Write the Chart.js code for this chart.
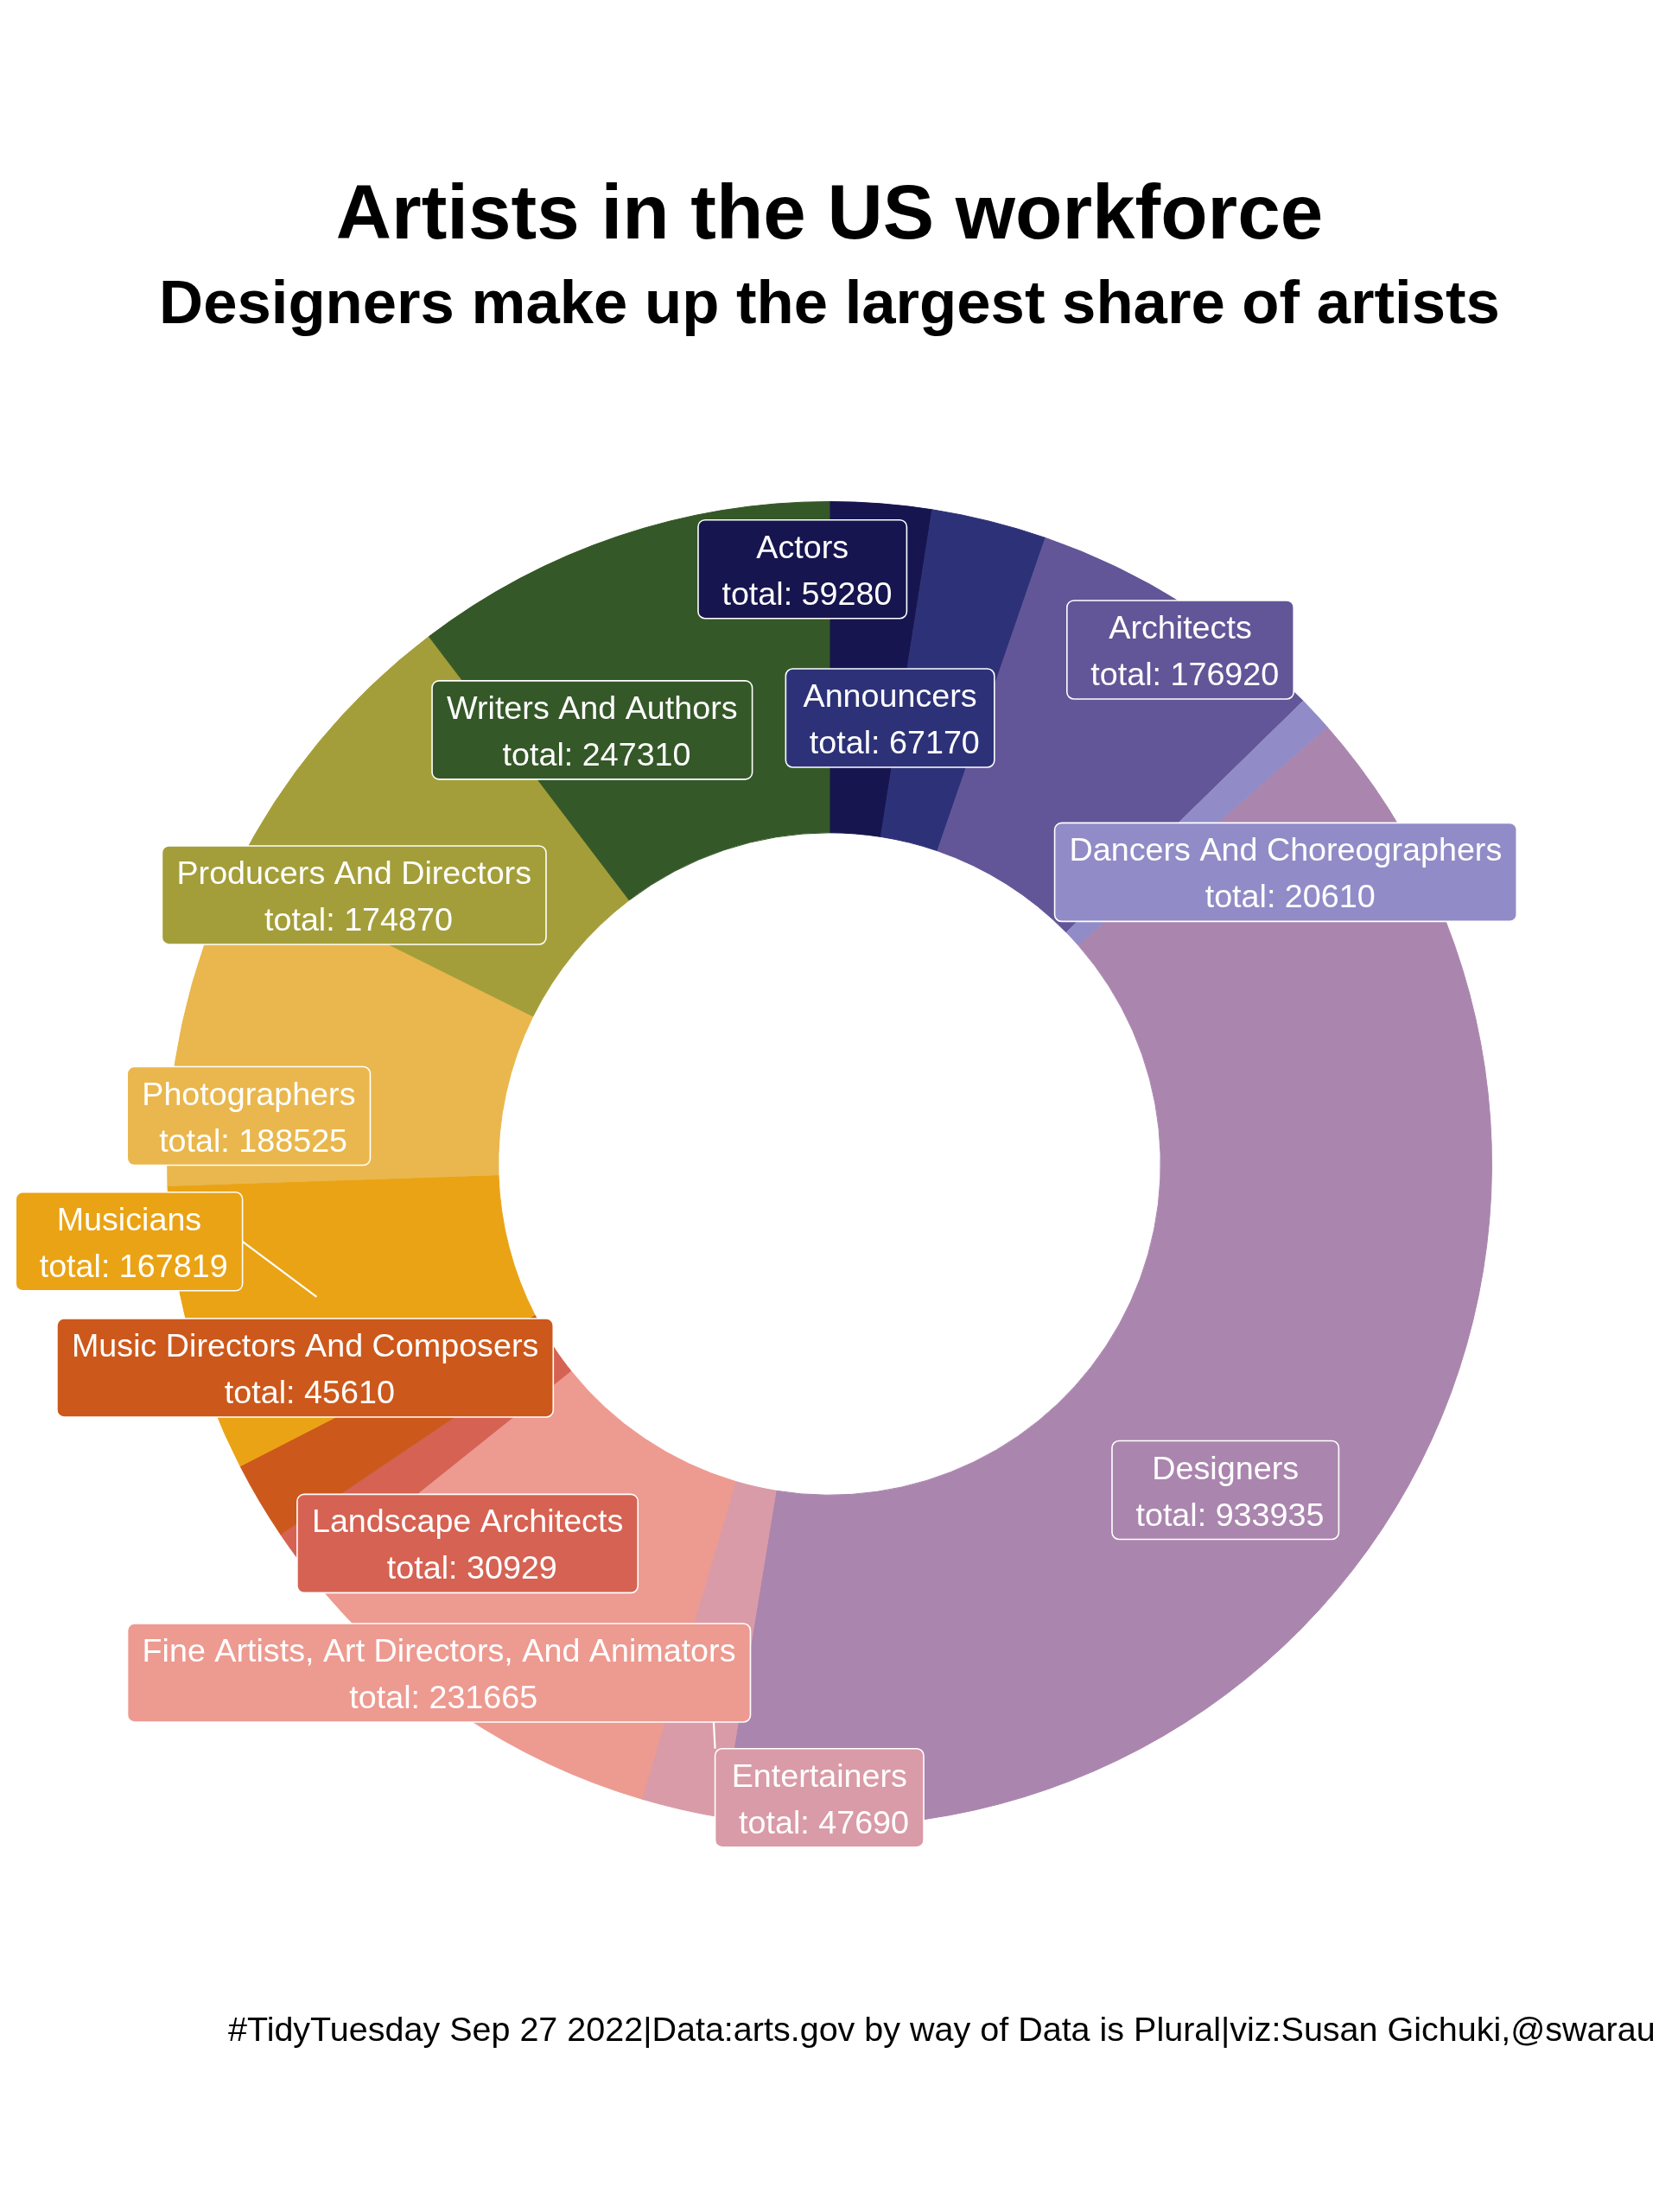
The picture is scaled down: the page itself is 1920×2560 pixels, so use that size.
<!DOCTYPE html>
<html>
<head>
<meta charset="utf-8">
<script src="https://cdn.jsdelivr.net/npm/chart.js@4.4.1/dist/chart.umd.min.js"></script>
<style>
html,body{margin:0;padding:0;background:#ffffff;}
#wrap{position:relative;width:1920px;height:2560px;}
</style>
</head>
<body>
<div id="wrap"><canvas id="c"></canvas></div>
<script>
// ---------- data ----------
const categories = [
  "Actors",
  "Announcers",
  "Architects",
  "Dancers And Choreographers",
  "Designers",
  "Entertainers",
  "Fine Artists, Art Directors, And Animators",
  "Landscape Architects",
  "Music Directors And Composers",
  "Musicians",
  "Photographers",
  "Producers And Directors",
  "Writers And Authors"
];
const totals = [59280, 67170, 176920, 20610, 933935, 47690, 231665, 30929, 45610, 167819, 188525, 174870, 247310];
const titleText = "Artists in the US workforce";
const subtitleText = "Designers make up the largest share of artists";
const captionText = "#TidyTuesday Sep 27 2022|Data:arts.gov by way of Data is Plural|viz:Susan Gichuki,@swarau";

// ---------- style / layout ----------
const palette = ["#17154f","#2d3278","#625698","#918cc7","#aa85ae","#d99ba7","#ed9a91","#d56253","#cc581b","#eaa314","#e9b74d","#a39e39","#355828"];
// label offsets (px) from each slice's anchor point (at 0.8 of the outer radius, mid-angle)
const labelNudge = [[-79,-77],[-78,79],[78,-77],[78,79],[-78,80],[125,136],[-110,80],[75,76],[-79,-76],[-217,-64],[-73,75],[-78,80],[-79,79]];
// which point of the label box a leader segment attaches to (null = no segment)
const segmentAttach = [null,null,null,null,null,"topleft",null,null,null,"right",null,null,null];

const FONT = '"Liberation Sans", Arial, Helvetica, sans-serif';
const LABEL_SIZE = 37.7;
const PADX = 17;
const BOX_H = 114;

function roundRect(ctx, x, y, w, h, r) {
  ctx.beginPath();
  ctx.moveTo(x + r, y);
  ctx.lineTo(x + w - r, y);
  ctx.arcTo(x + w, y, x + w, y + r, r);
  ctx.lineTo(x + w, y + h - r);
  ctx.arcTo(x + w, y + h, x + w - r, y + h, r);
  ctx.lineTo(x + r, y + h);
  ctx.arcTo(x, y + h, x, y + h - r, r);
  ctx.lineTo(x, y + r);
  ctx.arcTo(x, y, x + r, y, r);
  ctx.closePath();
}

const labelPlugin = {
  id: 'repelLabels',
  afterDatasetsDraw(chart) {
    const ctx = chart.ctx;
    const meta = chart.getDatasetMeta(0);
    ctx.save();
    ctx.font = LABEL_SIZE + 'px ' + FONT;
    const items = meta.data.map((arc, i) => {
      const p = arc.getProps(['x','y','startAngle','endAngle','outerRadius'], true);
      const mid = (p.startAngle + p.endAngle) / 2;
      const r = p.outerRadius * 0.8;
      const ax = p.x + Math.cos(mid) * r;
      const ay = p.y + Math.sin(mid) * r;
      const lines = [categories[i], ' total: ' + totals[i]];
      const w = Math.max(...lines.map(l => ctx.measureText(l).width)) + 2 * PADX;
      const cx = ax + labelNudge[i][0];
      const cy = ay + labelNudge[i][1];
      return {ax, ay, cx, cy, w, h: BOX_H, lines, color: palette[i], attach: segmentAttach[i]};
    });
    // leader segments
    ctx.strokeStyle = '#ffffff';
    ctx.lineWidth = 2.2;
    items.forEach(it => {
      if (!it.attach) return;
      const left = it.cx - it.w / 2, right = it.cx + it.w / 2;
      const top = it.cy - it.h / 2;
      let sx = it.cx, sy = it.cy;
      if (it.attach === 'right') { sx = right; sy = it.cy; }
      if (it.attach === 'topleft') { sx = left; sy = top; }
      ctx.beginPath();
      ctx.moveTo(sx, sy);
      ctx.lineTo(it.ax, it.ay);
      ctx.stroke();
    });
    // label boxes
    items.forEach(it => {
      const x = it.cx - it.w / 2, y = it.cy - it.h / 2;
      roundRect(ctx, x, y, it.w, it.h, 8);
      ctx.fillStyle = it.color;
      ctx.fill();
      ctx.lineWidth = 1.6;
      ctx.strokeStyle = '#ffffff';
      ctx.stroke();
      ctx.fillStyle = '#ffffff';
      ctx.textAlign = 'center';
      ctx.textBaseline = 'alphabetic';
      ctx.fillText(it.lines[0], it.cx, it.cy - 13);
      ctx.fillText(it.lines[1], it.cx, it.cy + 41);
    });
    ctx.restore();
  },
  afterDraw(chart) {
    const ctx = chart.ctx;
    ctx.save();
    ctx.font = '39.5px ' + FONT;
    ctx.fillStyle = '#000000';
    ctx.textAlign = 'left';
    ctx.textBaseline = 'alphabetic';
    ctx.fillText(captionText, 264, 2362);
    ctx.restore();
  }
};

new Chart(document.getElementById('c'), {
  type: 'doughnut',
  data: {
    labels: categories,
    datasets: [{
      data: totals,
      backgroundColor: palette,
      borderColor: palette,
      borderWidth: 1,
      hoverOffset: 0,
      hoverBorderWidth: 1
    }]
  },
  options: {
    responsive: true,
    maintainAspectRatio: false,
    devicePixelRatio: 1,
    animation: false,
    events: [],
    cutout: '50%',
    layout: { padding: { left: 0, right: 0, top: 0, bottom: 446 } },
    plugins: {
      legend: { display: false },
      tooltip: { enabled: false },
      title: {
        display: true,
        text: titleText,
        color: '#000000',
        font: { family: FONT, size: 89, weight: 'bold', lineHeight: 1.2 },
        padding: { top: 198, bottom: 0 }
      },
      subtitle: {
        display: true,
        text: subtitleText,
        color: '#000000',
        font: { family: FONT, size: 70.7, weight: 'bold', lineHeight: 1.2 },
        padding: { top: 7.1, bottom: 183.3 }
      }
    }
  },
  plugins: [labelPlugin]
});
</script>
</body>
</html>
